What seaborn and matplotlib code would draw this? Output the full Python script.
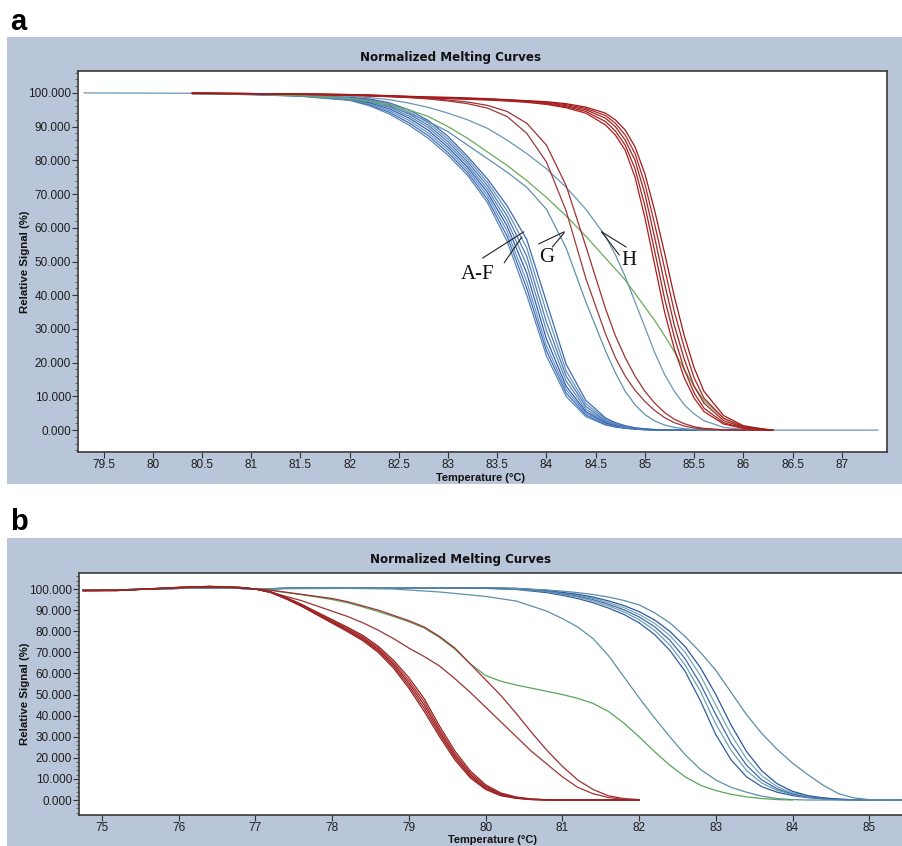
import numpy as np
import pandas as pd
import matplotlib
matplotlib.use("Agg")
import matplotlib.pyplot as plt
import seaborn as sns
from matplotlib.patches import Rectangle
from matplotlib.ticker import MultipleLocator, FuncFormatter

NA = float("nan")

# ---------------- Panel a data (temperature grid, signal curves) ----------------
a_temp = [79.3, 80.4, 81.0, 81.5, 82.0, 82.2, 82.4, 82.6, 82.8, 83.0, 83.2, 83.4, 83.6, 83.8,
          84.0, 84.2, 84.4, 84.6, 84.7, 84.8, 84.9, 85.0, 85.1, 85.2, 85.3, 85.4, 85.5, 85.6,
          85.8, 86.0, 86.2, 86.3, 87.37]

a_blue_1 = [NA, 99.8, 99.5, 99.0, 97.8, 96.2, 93.8, 90.5, 86.5, 81.5, 75.5, 67.5, 56.0, 40.0, 22.0, 10.0, 4.0, 1.5, 0.9, 0.5, 0.25, 0.1, 0, 0, 0, 0, 0, 0, 0, 0, 0, 0, NA]
a_blue_2 = [NA, 99.8, 99.5, 99.1, 97.9, 96.5, 94.3, 91.2, 87.3, 82.3, 76.3, 68.5, 57.5, 42.0, 23.5, 11.0, 4.5, 1.7, 1.0, 0.6, 0.3, 0.12, 0, 0, 0, 0, 0, 0, 0, 0, 0, 0, NA]
a_blue_3 = [NA, 99.8, 99.6, 99.1, 98.0, 96.8, 94.8, 91.9, 88.1, 83.1, 77.1, 69.5, 59.0, 44.0, 25.0, 12.0, 5.0, 2.0, 1.2, 0.7, 0.35, 0.15, 0.05, 0, 0, 0, 0, 0, 0, 0, 0, 0, NA]
a_blue_4 = [NA, 99.9, 99.6, 99.2, 98.2, 97.1, 95.3, 92.6, 88.9, 83.9, 77.9, 70.5, 60.5, 46.5, 27.0, 13.0, 5.5, 2.2, 1.3, 0.8, 0.4, 0.2, 0.1, 0, 0, 0, 0, 0, 0, 0, 0, 0, NA]
a_blue_5 = [NA, 99.9, 99.6, 99.2, 98.3, 97.4, 95.8, 93.2, 89.7, 84.7, 78.7, 71.5, 62.0, 49.0, 29.5, 14.5, 6.2, 2.5, 1.5, 0.9, 0.45, 0.22, 0.1, 0, 0, 0, 0, 0, 0, 0, 0, 0, NA]
a_blue_6 = [NA, 99.9, 99.7, 99.3, 98.5, 97.7, 96.3, 93.8, 90.4, 85.5, 79.5, 72.5, 63.5, 51.5, 32.0, 16.0, 7.0, 2.8, 1.7, 1.0, 0.5, 0.25, 0.1, 0, 0, 0, 0, 0, 0, 0, 0, 0, NA]
a_blue_7 = [NA, 99.9, 99.7, 99.3, 98.6, 98.0, 96.7, 94.4, 91.1, 86.3, 80.3, 73.5, 65.0, 54.0, 35.0, 17.5, 7.8, 3.2, 1.9, 1.1, 0.6, 0.3, 0.15, 0, 0, 0, 0, 0, 0, 0, 0, 0, NA]
a_blue_8 = [NA, 99.9, 99.7, 99.4, 98.7, 98.2, 97.1, 95.0, 91.8, 87.1, 81.1, 74.5, 66.5, 56.5, 38.0, 19.5, 8.8, 3.6, 2.2, 1.3, 0.7, 0.35, 0.15, 0, 0, 0, 0, 0, 0, 0, 0, 0, NA]
a_G      = [NA, 99.8, 99.6, 99.2, 98.5, 97.5, 96.0, 94.0, 91.5, 88.5, 84.5, 80.5, 76.5, 72.0, 65.5, 54.0, 38.0, 23.5, 17.0, 11.5, 7.5, 4.6, 2.7, 1.5, 0.8, 0.4, 0.15, 0, 0, 0, 0, 0, NA]
a_H      = [100.0, 99.9, 99.7, 99.4, 99.0, 98.6, 98.0, 97.0, 95.7, 94.0, 92.0, 89.5, 86.0, 82.0, 77.5, 72.0, 65.5, 57.5, 52.0, 45.5, 38.0, 30.5, 23.0, 16.5, 11.5, 7.5, 4.8, 2.8, 0.8, 0.2, 0, 0, 0]
a_green  = [NA, 99.8, 99.6, 99.2, 98.3, 97.5, 96.5, 95.0, 93.0, 90.0, 86.5, 82.5, 78.5, 74.0, 69.0, 63.5, 57.5, 51.0, 47.8, 44.5, 40.5, 36.5, 32.5, 28.0, 23.2, 18.0, 13.0, 8.8, 3.5, 1.0, 0.2, 0, NA]
a_red_1  = [NA, 99.8, 99.7, 99.5, 99.3, 99.1, 98.9, 98.6, 98.2, 97.6, 96.8, 95.5, 93.0, 88.0, 79.5, 65.0, 45.0, 28.5, 21.5, 16.0, 11.8, 8.5, 5.8, 3.7, 2.2, 1.2, 0.6, 0.3, 0, 0, 0, 0, NA]
a_red_2  = [NA, 99.9, 99.8, 99.6, 99.4, 99.2, 99.0, 98.8, 98.4, 97.9, 97.3, 96.3, 94.5, 91.0, 84.5, 72.5, 54.5, 36.0, 28.0, 21.5, 16.0, 11.5, 8.0, 5.2, 3.2, 1.9, 1.0, 0.5, 0.1, 0, 0, 0, NA]
a_red_3  = [NA, 99.9, 99.8, 99.6, 99.3, 99.1, 98.9, 98.7, 98.5, 98.3, 98.1, 97.9, 97.6, 97.2, 96.6, 95.6, 94.0, 90.5, 87.5, 83.0, 75.0, 63.0, 49.0, 35.0, 24.0, 15.5, 9.5, 5.5, 1.8, 0.5, 0.1, 0, NA]
a_red_4  = [NA, 99.9, 99.8, 99.6, 99.4, 99.2, 99.0, 98.8, 98.6, 98.4, 98.2, 98.0, 97.7, 97.4, 96.8, 95.9, 94.5, 91.5, 88.7, 84.5, 77.5, 66.5, 53.0, 39.0, 27.5, 18.0, 11.0, 6.5, 2.2, 0.6, 0.15, 0, NA]
a_red_5  = [NA, 99.9, 99.8, 99.7, 99.5, 99.3, 99.1, 98.9, 98.7, 98.5, 98.3, 98.1, 97.8, 97.5, 97.0, 96.2, 95.0, 92.5, 90.0, 86.0, 80.0, 70.0, 57.0, 43.5, 31.0, 21.0, 13.0, 8.0, 2.8, 0.8, 0.2, 0, NA]
a_red_6  = [NA, 99.9, 99.8, 99.7, 99.5, 99.3, 99.1, 98.9, 98.7, 98.6, 98.4, 98.2, 97.9, 97.6, 97.2, 96.5, 95.4, 93.3, 91.0, 87.5, 82.0, 73.0, 61.0, 48.0, 35.0, 24.5, 15.5, 9.5, 3.5, 1.0, 0.25, 0, NA]
a_red_7  = [NA, 99.9, 99.8, 99.7, 99.5, 99.4, 99.2, 99.0, 98.8, 98.7, 98.5, 98.3, 98.0, 97.7, 97.4, 96.8, 95.8, 94.0, 92.0, 89.0, 84.0, 76.0, 65.0, 52.5, 39.5, 28.0, 18.5, 11.5, 4.3, 1.3, 0.35, 0, NA]

a_curves = {
    "A": a_blue_1, "B": a_blue_2, "C": a_blue_3, "D": a_blue_4,
    "E": a_blue_5, "F": a_blue_6, "F2": a_blue_7, "F3": a_blue_8,
    "G": a_G, "H": a_H, "green": a_green,
    "r1": a_red_1, "r2": a_red_2, "r3": a_red_3, "r4": a_red_4,
    "r5": a_red_5, "r6": a_red_6, "r7": a_red_7,
}
a_colors = {
    "A": "#5a86b4", "B": "#3f6fb8", "C": "#6b93bd", "D": "#2d5cc0",
    "E": "#5b88b0", "F": "#4a78b5", "F2": "#6690b8", "F3": "#3a68b8",
    "G": "#5f8fb0", "H": "#6a95b5", "green": "#6aaa5a",
    "r1": "#9a3a3a", "r2": "#a03030", "r3": "#b01c1c", "r4": "#a82020",
    "r5": "#9e2424", "r6": "#b52525", "r7": "#a01818",
}

# ---------------- Panel b data ----------------
b_temp_red = [74.75, 75.2, 75.6, 76.0, 76.4, 76.8, 77.0, 77.2, 77.4, 77.6, 77.8, 78.0, 78.2, 78.4,
              78.6, 78.8, 79.0, 79.2, 79.4, 79.6, 79.8, 80.0, 80.2, 80.4, 80.6, 80.8, 81.0, 81.2,
              81.4, 81.6, 81.8, 82.0]
b_red_1 = [99.3, 99.3, 100.0, 100.7, 101.2, 100.7, 100.0, 98.3, 95.3, 91.8, 87.8, 83.8, 79.8, 75.5, 70.0, 62.5, 53.0, 42.0, 30.0, 19.0, 10.5, 5.0, 2.0, 0.8, 0.2, 0, 0, 0, 0, 0, 0, 0]
b_red_2 = [99.2, 99.3, 100.1, 100.8, 101.3, 100.8, 100.0, 98.4, 95.4, 92.0, 88.1, 84.2, 80.3, 76.1, 70.7, 63.4, 54.2, 43.5, 31.2, 20.0, 11.2, 5.5, 2.3, 0.9, 0.25, 0.05, 0, 0, 0, 0, 0, 0]
b_red_3 = [99.3, 99.4, 100.0, 100.7, 101.1, 100.7, 100.0, 98.5, 95.6, 92.2, 88.4, 84.6, 80.8, 76.7, 71.4, 64.3, 55.4, 45.0, 32.4, 21.0, 12.0, 6.0, 2.6, 1.0, 0.3, 0.1, 0, 0, 0, 0, 0, 0]
b_red_4 = [99.2, 99.3, 100.1, 100.8, 101.2, 100.8, 100.0, 98.6, 95.8, 92.5, 88.7, 85.0, 81.3, 77.3, 72.1, 65.2, 56.6, 46.5, 33.6, 22.0, 12.8, 6.6, 2.9, 1.2, 0.4, 0.1, 0, 0, 0, 0, 0, 0]
b_red_5 = [99.3, 99.3, 100.0, 100.7, 101.2, 100.7, 100.0, 98.7, 96.0, 92.8, 89.1, 85.5, 81.9, 78.0, 72.9, 66.2, 58.0, 48.0, 35.0, 23.2, 13.8, 7.2, 3.3, 1.4, 0.5, 0.15, 0, 0, 0, 0, 0, 0]
b_red_6 = [99.3, 99.4, 100.0, 100.6, 101.0, 100.6, 100.0, 98.5, 96.5, 94.5, 92.0, 89.5, 87.0, 84.0, 80.5, 76.5, 72.0, 68.0, 63.5, 57.5, 51.0, 44.0, 37.0, 30.0, 23.0, 17.0, 11.0, 6.0, 3.0, 1.2, 0.3, 0]
b_red_7 = [99.3, 99.4, 100.0, 100.6, 101.0, 100.6, 100.0, 99.5, 98.5, 97.5, 96.5, 95.5, 94.0, 92.0, 90.0, 87.5, 85.0, 82.0, 77.5, 72.0, 64.5, 57.0, 49.5, 41.0, 32.0, 23.5, 16.0, 9.5, 5.0, 2.0, 0.7, 0.2]

b_temp_green = [74.75, 75.2, 75.6, 76.0, 76.4, 76.8, 77.0, 77.2, 77.4, 77.6, 77.8, 78.0, 78.2, 78.4,
                78.6, 78.8, 79.0, 79.2, 79.4, 79.6, 79.8, 80.0, 80.2, 80.4, 80.6, 80.8, 81.0, 81.2,
                81.4, 81.6, 81.8, 82.0, 82.2, 82.4, 82.6, 82.8, 83.0, 83.2, 83.4, 83.6, 83.8, 84.0]
b_green = [99.3, 99.4, 100.0, 100.5, 100.8, 100.5, 100.0, 99.3, 98.3, 97.3, 96.2, 95.0, 93.5, 91.5, 89.3, 87.0, 84.5, 81.5, 77.0, 71.5, 64.5, 59.0, 56.3, 54.5, 53.0, 51.5, 50.0, 48.2, 45.8, 42.0, 36.5, 30.0, 23.0, 16.5, 11.0, 7.0, 4.5, 2.7, 1.5, 0.7, 0.2, 0]

b_temp_blue = [74.75, 75.2, 75.6, 76.0, 76.4, 76.8, 77.0, 77.6, 78.2, 78.8, 79.4, 80.0, 80.4, 80.8,
               81.0, 81.2, 81.4, 81.6, 81.8, 82.0, 82.2, 82.4, 82.6, 82.8, 83.0, 83.2, 83.4, 83.6,
               83.8, 84.0, 84.2, 84.4, 84.6, 84.8, 85.0, 85.44]
b_teal   = [99.5, 99.6, 100.0, 100.3, 100.5, 100.3, 100.0, 100.2, 100.3, 100.0, 98.6, 96.5, 94.3, 89.5, 86.0, 82.0, 76.5, 68.5, 58.5, 48.5, 39.0, 30.0, 21.5, 14.5, 9.5, 6.0, 3.7, 1.8, 0.7, 0.2, 0, 0, 0, 0, 0, 0]
b_blue_1 = [99.5, 99.6, 100.0, 100.3, 100.5, 100.3, 100.0, 100.5, 100.6, 100.6, 100.6, 100.3, 99.8, 98.3, 97.0, 95.5, 93.5, 91.0, 88.0, 84.0, 78.5, 71.0, 61.0, 47.0, 31.0, 19.0, 11.0, 6.3, 3.7, 2.1, 1.1, 0.5, 0.2, 0, 0, 0]
b_blue_2 = [99.5, 99.6, 100.0, 100.3, 100.5, 100.3, 100.0, 100.5, 100.6, 100.6, 100.6, 100.4, 100.0, 98.8, 97.5, 96.2, 94.3, 92.0, 89.2, 85.5, 80.5, 73.5, 64.0, 51.5, 36.0, 23.5, 14.0, 8.0, 4.6, 2.6, 1.4, 0.7, 0.3, 0.1, 0, 0]
b_blue_3 = [99.5, 99.6, 100.0, 100.3, 100.5, 100.3, 100.0, 100.5, 100.6, 100.6, 100.6, 100.4, 100.1, 99.0, 97.8, 96.7, 95.0, 92.8, 90.2, 86.8, 82.2, 75.8, 67.0, 55.0, 40.5, 27.0, 16.5, 9.5, 5.3, 2.9, 1.6, 0.8, 0.3, 0.1, 0, 0]
b_blue_4 = [99.5, 99.6, 100.0, 100.3, 100.5, 100.3, 100.0, 100.5, 100.6, 100.6, 100.6, 100.5, 100.2, 99.2, 98.1, 97.1, 95.6, 93.6, 91.2, 88.0, 83.8, 78.0, 70.0, 59.0, 45.0, 31.0, 19.5, 11.5, 6.3, 3.4, 1.8, 0.9, 0.4, 0.1, 0, 0]
b_blue_5 = [99.5, 99.6, 100.0, 100.3, 100.5, 100.3, 100.0, 100.5, 100.6, 100.6, 100.6, 100.5, 100.3, 99.4, 98.4, 97.5, 96.2, 94.4, 92.2, 89.3, 85.4, 80.0, 72.7, 62.7, 50.0, 35.5, 23.0, 13.8, 7.7, 4.1, 2.1, 1.0, 0.4, 0.1, 0, 0]
b_blue_6 = [99.5, 99.6, 100.0, 100.3, 100.5, 100.3, 100.0, 100.5, 100.6, 100.6, 100.6, 100.6, 100.3, 99.5, 99.0, 98.3, 97.4, 96.2, 94.6, 92.5, 88.8, 84.0, 77.5, 70.0, 61.5, 51.0, 40.5, 31.5, 24.0, 17.5, 12.0, 7.0, 3.0, 1.0, 0.2, 0]

b_groups = [
    (b_temp_blue, {"bb1": b_blue_1, "bb2": b_blue_2, "bb3": b_blue_3, "bb4": b_blue_4,
                   "bb5": b_blue_5, "bb6": b_blue_6, "teal": b_teal}),
    (b_temp_green, {"green": b_green}),
    (b_temp_red, {"rm1": b_red_6, "rm2": b_red_7, "rl1": b_red_1, "rl2": b_red_2,
                  "rl3": b_red_3, "rl4": b_red_4, "rl5": b_red_5}),
]
b_colors = {
    "bb1": "#2f5f9c", "bb2": "#6f9fb5", "bb3": "#3c6aa8", "bb4": "#7aa5b8",
    "bb5": "#2a58a0", "bb6": "#5b8ca8", "teal": "#5e90a5", "green": "#5aa55a",
    "rm1": "#9a3535", "rm2": "#a03030", "rl1": "#9c1f1f", "rl2": "#a82424",
    "rl3": "#8e2020", "rl4": "#b02a2a", "rl5": "#962222",
}

title_text = "Normalized Melting Curves"
ylabel_text = "Relative Signal (%)"
xlabel_text = "Temperature (\u00b0C)"
a_ticks = [79.5, 80, 80.5, 81, 81.5, 82, 82.5, 83, 83.5, 84, 84.5, 85, 85.5, 86, 86.5, 87]
b_ticks = [75, 76, 77, 78, 79, 80, 81, 82, 83, 84, 85]
y_ticks = [0, 10, 20, 30, 40, 50, 60, 70, 80, 90, 100]


def long_frame(groups):
    rows = []
    for temps, curves in groups:
        for name, vals in curves.items():
            assert len(vals) == len(temps), name
            for t, v in zip(temps, vals):
                if not np.isnan(v):
                    rows.append((name, t, v))
    return pd.DataFrame(rows, columns=["curve", "temp", "signal"])


sns.set_style("white")
plt.rcParams["font.family"] = ["Liberation Sans", "DejaVu Sans"]

W, H = 903, 846
fig = plt.figure(figsize=(W / 100, H / 100), dpi=100)
PANEL = "#b9c5d9"


def fx(px):
    return px / W


def fy(py):
    return 1 - py / H


fig.add_artist(Rectangle((fx(7), fy(484)), 1 - fx(7), (484 - 37) / H,
                         transform=fig.transFigure, facecolor=PANEL, edgecolor="none", zorder=0))
fig.add_artist(Rectangle((fx(7), 0), 1 - fx(7), (846 - 538) / H,
                         transform=fig.transFigure, facecolor=PANEL, edgecolor="none", zorder=0))

ax_a = fig.add_axes([fx(78), fy(452), (887 - 78) / W, (452 - 71) / H])
ax_b = fig.add_axes([fx(79), fy(815), (903 - 79) / W, (815 - 573) / H])

df_a = long_frame([(a_temp, a_curves)])
sns.lineplot(data=df_a, x="temp", y="signal", hue="curve", hue_order=list(a_curves.keys()),
             palette=a_colors, estimator=None, sort=False, legend=False, linewidth=0.9, ax=ax_a)

df_b = long_frame(b_groups)
b_order = [k for _, c in b_groups for k in c.keys()]
sns.lineplot(data=df_b, x="temp", y="signal", hue="curve", hue_order=b_order,
             palette=b_colors, estimator=None, sort=False, legend=False, linewidth=0.9, ax=ax_b)

ax_a.set_xlim(79.24, 87.46)
ax_a.set_ylim(-6.5, 106.5)
ax_b.set_xlim(74.70, 85.44)
ax_b.set_ylim(-7.1, 107.6)

for ax, xt in ((ax_a, a_ticks), (ax_b, b_ticks)):
    ax.set_facecolor("white")
    ax.set_xlabel("")
    ax.set_ylabel("")
    ax.set_xticks(xt)
    ax.set_yticks(y_ticks)
    ax.xaxis.set_major_formatter(FuncFormatter(lambda v, p: f"{v:g}"))
    ax.yaxis.set_major_formatter(FuncFormatter(lambda v, p: f"{v:.3f}"))
    ax.yaxis.set_minor_locator(MultipleLocator(2))
    ax.tick_params(axis="both", which="major", direction="out", length=4, width=0.8,
                   color="#333333", labelsize=8.5, labelcolor="#1e1e1e", pad=1.0,
                   bottom=True, left=True)
    ax.tick_params(axis="y", which="minor", direction="out", length=2, width=0.6,
                   color="#555555", left=True)
    for s in ax.spines.values():
        s.set_visible(True)
        s.set_color("#3a3a3a")
        s.set_linewidth(1.2)
    ax.grid(False)

# annotations on panel a
ann_color = "#222222"
a_pointer_lines = [
    ((83.35, 51.0), (83.77, 58.8)),
    ((83.57, 49.6), (83.75, 57.3)),
    ((83.92, 55.2), (84.18, 58.8)),
    ((84.06, 54.3), (84.18, 58.5)),
    ((84.81, 54.3), (84.56, 58.8)),
    ((84.74, 51.9), (84.56, 58.8)),
]
for start, tip in a_pointer_lines:
    ax_a.annotate("", xy=tip, xytext=start,
                  arrowprops=dict(arrowstyle="-", color=ann_color, lw=0.8, shrinkA=0, shrinkB=0))
a_labels = [("A-F", 83.30, 46.0), ("G", 84.00, 51.3), ("H", 84.84, 50.4)]
for txt, tx, ty in a_labels:
    ax_a.text(tx, ty, txt, ha="center", va="center", fontsize=15,
              family=["Liberation Serif", "DejaVu Serif"], color="#111111")

# titles, axis labels, panel letters
for cx, cy in ((451, 57), (461, 559)):
    fig.text(fx(cx), fy(cy), title_text, ha="center", va="center", fontsize=8.6,
             weight="bold", family=["DejaVu Sans"], color="#111111")
for cy in (261.5, 694):
    fig.text(fx(25), fy(cy), ylabel_text, rotation=90, ha="center", va="center",
             fontsize=8.2, weight="bold", color="#111111")
for cx, cy in ((481, 478), (493, 840)):
    fig.text(fx(cx), fy(cy), xlabel_text, ha="center", va="center",
             fontsize=7.9, weight="bold", color="#111111")
fig.text(fx(10), fy(30), "a", ha="left", va="baseline", fontsize=21, weight="bold", color="#000000")
fig.text(fx(10), fy(530), "b", ha="left", va="baseline", fontsize=21, weight="bold", color="#000000")

fig.savefig("out.png", dpi=100, facecolor="white")
